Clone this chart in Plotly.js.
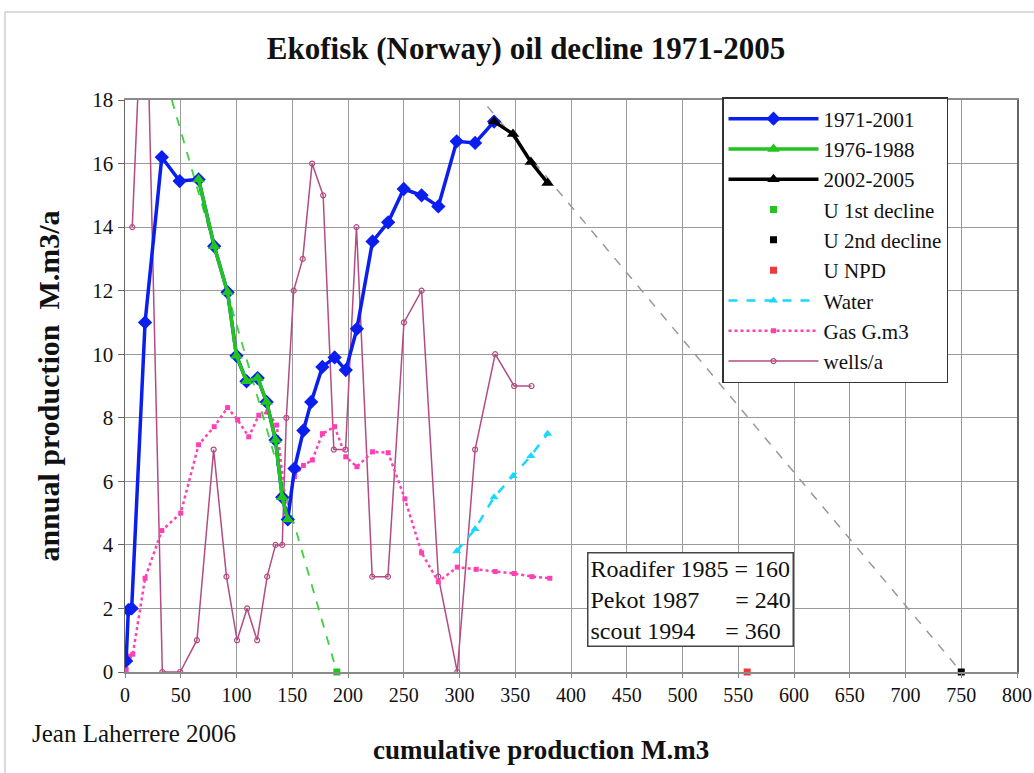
<!DOCTYPE html>
<html>
<head>
<meta charset="utf-8">
<script src="https://cdn.plot.ly/plotly-3.0.1.min.js"></script>
<style>html,body{margin:0;padding:0;background:#fff;}#chart{width:1034px;height:773px;}</style>
</head>
<body>
<div id="chart"></div>
<script>
// Oil 1971-2001: cumulative (M.m3) vs annual production (M.m3/a)
const oilCum = [1, 3, 6, 18, 33, 49, 66, 80, 92, 100, 109, 119, 127, 135, 141, 146,
  152, 160, 167, 177, 188, 198, 208, 222, 236, 250, 266, 281, 297.5, 314, 331];
const oilAnnual = [0.35, 1.95, 2.0, 11.0, 16.2, 15.45, 15.5, 13.4, 11.95, 9.95, 9.15, 9.25, 8.5, 7.3, 5.5, 4.8,
  6.4, 7.6, 8.5, 9.6, 9.9, 9.5, 10.8, 13.55, 14.15, 15.2, 15.0, 14.65, 16.7, 16.65, 17.32];

// 1976-1988 first decline segment
const decl1Cum = [66, 80, 92, 100, 109, 119, 127, 135, 141, 146];
const decl1Annual = [15.5, 13.4, 11.95, 9.95, 9.15, 9.25, 8.5, 7.3, 5.5, 4.8];

// 2002-2005
const lateCum = [331, 348, 364, 379];
const lateAnnual = [17.32, 16.93, 16.05, 15.39];

// Ultimate estimates
const u1Cum = [190]; const u1Val = [0];
const u2Cum = [750]; const u2Val = [0];
const uNpdCum = [558]; const uNpdVal = [0];

// Decline trend lines
const trend1Cum = [42, 190]; const trend1Val = [18, 0];
const trend2Cum = [325, 750]; const trend2Val = [17.8, 0];

// Water
const waterCum = [297.5, 314, 331, 348, 364, 379];
const waterVal = [3.8, 4.5, 5.5, 6.17, 6.8, 7.5];

// Gas G.m3
const gasCum = [1, 4, 7, 18, 33, 50, 66, 80, 92, 101, 111, 120, 128, 136, 145,
  152, 160, 168, 177, 188, 198, 208, 222, 236, 251, 266, 281, 298, 315, 332, 349, 365, 381];
const gasVal = [0.08, 0.5, 0.56, 2.95, 4.45, 5.0, 7.15, 7.72, 8.32, 7.93, 7.4, 8.08, 8.18, 7.77, 5.04,
  6.15, 6.5, 6.67, 7.5, 7.72, 6.77, 6.46, 6.93, 6.9, 5.45, 3.75, 2.84, 3.3, 3.23, 3.16, 3.1, 3.0, 2.95];

// Wells per year
const wellsCum = [6.5, 18, 33.5, 49.5, 64.5, 79.5, 91, 100.5, 109.5, 118.5, 127.5, 135, 141, 144.7,
  151.3, 159.4, 167.8, 177.7, 187.3, 197.8, 207.6, 221.7, 235.8, 250.2, 266, 281, 298, 314, 332, 349, 364.6];
const wellsVal = [14, 23.5, 0, 0, 1, 7, 3, 1, 2, 1, 3, 4, 4, 8,
  12, 13, 16, 15, 7, 7, 14, 3, 3, 11, 12, 3, 0, 7, 10, 9, 9];

const FONT = 'Liberation Serif, Times New Roman, serif';

const traces = [
  {x: wellsCum, y: wellsVal, name: 'wells/a', mode: 'lines+markers', legendrank: 9,
   line: {color: '#b24c82', width: 1.5},
   marker: {symbol: 'circle-open', size: 5, color: '#b24c82', line: {width: 1.2}}},
  {x: gasCum, y: gasVal, name: 'Gas G.m3', mode: 'lines+markers', legendrank: 8,
   line: {color: '#ff40b4', width: 2.5, dash: 'dot'},
   marker: {symbol: 'square', size: 5, color: '#ff40b4'}},
  {x: waterCum, y: waterVal, name: 'Water', mode: 'lines+markers', legendrank: 7,
   line: {color: '#18d8ff', width: 2.5, dash: 'dash'},
   marker: {symbol: 'triangle-up', size: 8, color: '#18d8ff'}},
  {x: trend1Cum, y: trend1Val, mode: 'lines', showlegend: false, hoverinfo: 'skip',
   line: {color: '#3cd23c', width: 1.8, dash: 'dash'}},
  {x: trend2Cum, y: trend2Val, mode: 'lines', showlegend: false, hoverinfo: 'skip',
   line: {color: '#999999', width: 1.5, dash: 'dash'}},
  {x: oilCum, y: oilAnnual, name: '1971-2001', mode: 'lines+markers', legendrank: 1,
   line: {color: '#0a1ef0', width: 3.5},
   marker: {symbol: 'diamond', size: 11, color: '#0a1ef0'}},
  {x: decl1Cum, y: decl1Annual, name: '1976-1988', mode: 'lines+markers', legendrank: 2,
   line: {color: '#22c41e', width: 3.5},
   marker: {symbol: 'triangle-up', size: 11, color: '#22c41e'}},
  {x: lateCum, y: lateAnnual, name: '2002-2005', mode: 'lines+markers', legendrank: 3,
   line: {color: '#000000', width: 3.5},
   marker: {symbol: 'triangle-up', size: 11, color: '#000000'}},
  {x: u1Cum, y: u1Val, name: 'U 1st decline', mode: 'markers', legendrank: 4, cliponaxis: false,
   marker: {symbol: 'square', size: 7, color: '#22c41e'}},
  {x: u2Cum, y: u2Val, name: 'U 2nd decline', mode: 'markers', legendrank: 5, cliponaxis: false,
   marker: {symbol: 'square', size: 7, color: '#000000'}},
  {x: uNpdCum, y: uNpdVal, name: 'U NPD', mode: 'markers', legendrank: 6, cliponaxis: false,
   marker: {symbol: 'square', size: 7, color: '#ee3a3a'}}
];

const L = 125, R = 1017, T = 100, B = 672;
const PW = R - L, PH = B - T;
const px = v => (v - L) / PW;
const py = v => (B - v) / PH;

const layout = {
  width: 1034, height: 773,
  margin: {l: L, r: 1034 - R, t: T, b: 773 - B},
  paper_bgcolor: '#ffffff', plot_bgcolor: '#ffffff',
  font: {family: FONT, color: '#111', size: 19},
  title: {text: '<b>Ekofisk (Norway) oil decline 1971-2005</b>', font: {family: FONT, size: 31, color: '#111'},
          x: 526 / 1034, xanchor: 'center', xref: 'container', y: 1 - 48 / 773, yanchor: 'middle', yref: 'container'},
  xaxis: {range: [0, 800], dtick: 50, tick0: 0, showgrid: true, gridcolor: '#9a9a9a', gridwidth: 1,
          showline: true, linecolor: '#8a8a8a', linewidth: 2, mirror: true, zeroline: false,
          ticks: 'outside', ticklen: 4, tickcolor: '#888', tickfont: {family: FONT, size: 20, color: '#111'}},
  yaxis: {range: [0, 18], dtick: 2, tick0: 0, showgrid: true, gridcolor: '#9a9a9a', gridwidth: 1,
          showline: true, linecolor: '#666', linewidth: 1.5, mirror: true, zeroline: false,
          ticks: 'outside', ticklen: 6, tickcolor: '#666', tickfont: {family: FONT, size: 21, color: '#111'},
          title: {text: '<b>annual production  M.m3/a</b>', font: {family: FONT, size: 30, color: '#111'}, standoff: 24}},
  legend: {x: px(722), y: py(97), xanchor: 'left', yanchor: 'top', bgcolor: '#ffffff',
           bordercolor: '#333', borderwidth: 1.5, font: {family: FONT, size: 21, color: '#111'},
           itemwidth: 90, tracegroupgap: 0},
  showlegend: true,
  annotations: [
    {xref: 'paper', yref: 'paper', x: px(541), y: py(750), xanchor: 'center', yanchor: 'middle', showarrow: false,
     text: '<b>cumulative production M.m3</b>', font: {family: FONT, size: 27, color: '#111'}},
    {xref: 'paper', yref: 'paper', x: px(30), y: py(733), xanchor: 'left', yanchor: 'middle', showarrow: false,
     text: 'Jean Laherrere 2006', font: {family: FONT, size: 25, color: '#111'}},
    {xref: 'paper', yref: 'paper', x: px(587), y: py(552), xanchor: 'left', yanchor: 'top', showarrow: false,
     align: 'left', bgcolor: '#ffffff', bordercolor: '#444', borderwidth: 1.5, borderpad: 2,
     text: 'Roadifer 1985 = 160<br>Pekot 1987\u00a0\u00a0\u00a0\u00a0\u00a0\u00a0= 240<br>scout 1994\u00a0\u00a0\u00a0\u00a0\u00a0= 360',
     font: {family: FONT, size: 24, color: '#111'}}
  ],
  shapes: [
    {type: 'rect', xref: 'paper', yref: 'paper', x0: px(5), x1: px(1045), y0: py(790), y1: py(12),
     line: {color: '#cfcfcf', width: 1.5}, fillcolor: 'rgba(0,0,0,0)', layer: 'below'}
  ]
};

Plotly.newPlot('chart', traces, layout, {displayModeBar: false, staticPlot: true});
</script>
</body>
</html>
